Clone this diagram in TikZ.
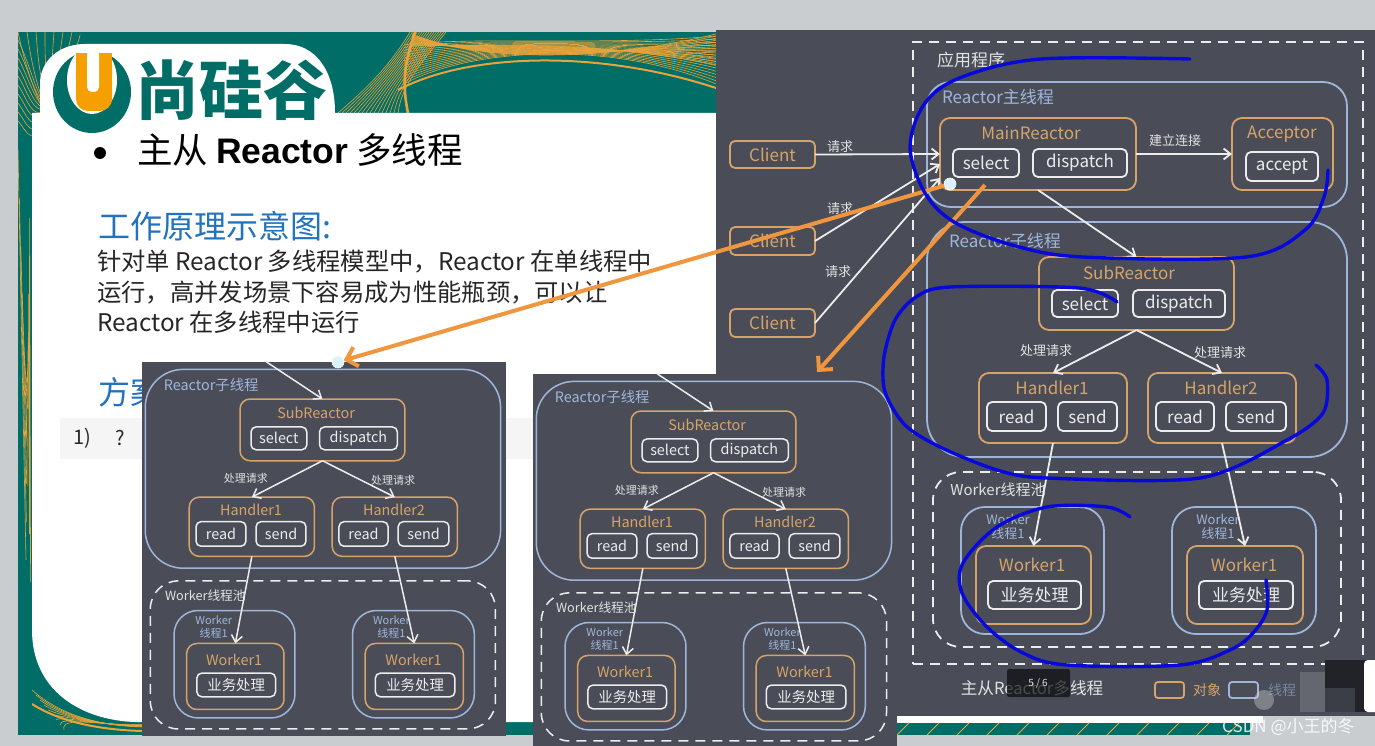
\documentclass[tikz,border=0pt]{standalone}
\usepackage{fontspec}
\setmainfont{Noto Sans CJK SC}
\newfontfamily\arialf{Liberation Sans}
\usetikzlibrary{arrows.meta}
\definecolor{pagegray}{HTML}{C9CDD0}
\definecolor{panelbg}{HTML}{4A4D58}
\definecolor{objor}{HTML}{D6A468}
\definecolor{thrbl}{HTML}{9FB6DA}
\definecolor{inwh}{HTML}{ECECEC}
\definecolor{lblwh}{HTML}{E2E2E2}
\definecolor{slidegreen}{HTML}{006E66}
\definecolor{netor}{HTML}{E8A33A}
\definecolor{logoor}{HTML}{F5A000}
\definecolor{headblue}{HTML}{2272BC}
\definecolor{arrowor}{HTML}{F0963E}
\definecolor{penblue}{HTML}{0808DC}
\def\plw{1.8pt}
\tikzset{
  objbox/.style={draw=objor,line width=\plw,rounded corners=10pt,inner sep=0pt,outer sep=0pt},
  thrbox/.style={draw=thrbl,line width=\plw,inner sep=0pt,outer sep=0pt},
  inbox/.style={draw=inwh,line width=\plw,rounded corners=5pt,inner sep=0pt,outer sep=0pt,text=inwh,font=\fontsize{17}{17}\selectfont},
  pooldash/.style={draw=inwh,line width=\plw,dash pattern=on 10pt off 7pt,inner sep=0pt,outer sep=0pt},
  objtxt/.style={text=objor,inner sep=0pt,font=\fontsize{17}{17}\selectfont},
  thrtxt/.style={text=thrbl,inner sep=0pt,font=\fontsize{17}{17}\selectfont},
  smalltxt/.style={text=lblwh,inner sep=0pt,font=\fontsize{13}{13}\selectfont},
  flow/.style={draw=inwh,line width=\plw,-{Straight Barb[length=7pt,width=11pt]}},
  orangearrow/.style={draw=arrowor,line width=4pt,-{Straight Barb[length=10pt,width=20pt]}},
  dot/.style={circle,draw=white,line width=.6pt,fill=cyan!15,minimum size=12pt,inner sep=0pt,outer sep=0pt},
  pen/.style={draw=penblue,line width=3.4pt,line cap=round,line join=round},
  netline/.style={draw=netor,line width=.6pt},
}
% style, name, x1, y1, x2, y2, text
\newcommand{\bx}[7]{%
  \pgfmathsetmacro\bxw{#5-#3}\pgfmathsetmacro\bxh{#6-#4}%
  \pgfmathsetmacro\bxc{(#5+#3)/2}\pgfmathsetmacro\byc{(#6+#4)/2}%
  \node[#1,minimum width=\bxw pt,minimum height=\bxh pt] (#2) at (\bxc,\byc) {#7};}
% lower half of the diagram, coordinates of the large copy
\newcommand{\subdiagram}[1]{%
  \bx{thrbox,rounded corners=38pt}{#1rs}{927}{222}{1347}{457}{}
  \node[thrtxt] (#1rsl) at (1005,241) {Reactor子线程};
  \bx{objbox}{#1sub}{1039}{257}{1234}{330}{}
  \node[objtxt] (#1subl) at (1129,273) {SubReactor};
  \bx{inbox}{#1subs}{1052}{290}{1118}{317}{select}
  \bx{inbox}{#1subd}{1133}{290}{1225}{317}{dispatch}
  \bx{objbox}{#1ha}{979}{373}{1127}{443}{}
  \node[objtxt] (#1hal) at (1052,388) {Handler1};
  \bx{inbox}{#1har}{987}{402}{1046}{431}{read}
  \bx{inbox}{#1has}{1058}{402}{1117}{431}{send}
  \bx{objbox}{#1hb}{1148}{373}{1296}{443}{}
  \node[objtxt] (#1hbl) at (1221,388) {Handler2};
  \bx{inbox}{#1hbr}{1156}{402}{1214}{431}{read}
  \bx{inbox}{#1hbs}{1226}{402}{1286}{431}{send}
  \node[smalltxt] (#1la) at (1046,351) {处理请求};
  \node[smalltxt] (#1lb) at (1220,353) {处理请求};
  \bx{pooldash,rounded corners=28pt}{#1pool}{933}{472}{1341}{647}{}
  \node[smalltxt,font=\fontsize{15}{15}\selectfont] (#1pooll) at (998,490) {Worker线程池};
  \bx{thrbox,rounded corners=24pt}{#1ta}{961}{507}{1104}{634}{}
  \bx{thrbox,rounded corners=24pt}{#1tb}{1172}{507}{1316}{634}{}
  \node[thrtxt,font=\fontsize{13}{13}\selectfont] (#1tal) at (1008,519) {Worker};
  \node[thrtxt,font=\fontsize{13}{13}\selectfont] (#1tam) at (1008,534) {线程1};
  \node[thrtxt,font=\fontsize{13}{13}\selectfont] (#1tbl) at (1218,519) {Worker};
  \node[thrtxt,font=\fontsize{13}{13}\selectfont] (#1tbm) at (1218,534) {线程1};
  \bx{objbox}{#1wa}{976}{546}{1091}{624}{}
  \node[objtxt] (#1wal) at (1032,565) {Worker1};
  \bx{inbox}{#1wab}{988}{581}{1081}{609}{业务处理}
  \bx{objbox}{#1wb}{1187}{546}{1303}{624}{}
  \node[objtxt] (#1wbl) at (1244,565) {Worker1};
  \bx{inbox}{#1wbb}{1199}{581}{1293}{609}{业务处理}
  \draw[flow] (#1sub.south) -- (#1ha.north);
  \draw[flow] (#1sub.south) -- (#1hb.north);
  \draw[flow] (#1ha.south) -- (#1wa.north);
  \draw[flow] (#1hb.south) -- (#1wb.north);
}
\newcommand{\smallcopy}[3]{%
  \begin{scope}[shift={(#2,#3)},scale=.846,transform shape,shift={(-1039,-257)}]
    \def\plw{1.5pt}
    \bx{draw=none,fill=panelbg,inner sep=0pt,outer sep=0pt}{#1bg}{923}{213}{1353}{655}{}
    \coordinate (#1top) at (1070,213);
    \subdiagram{#1}
    \draw[flow] (#1top) -- (#1sub.north);
  \end{scope}}
\begin{document}
\begin{tikzpicture}[x=1pt,y=-1pt]
\useasboundingbox (0,0) rectangle (1375,746);
\fill[pagegray] (0,0) rectangle (1375,746);
% --- slide ---
\fill[slidegreen] (18,32) rectangle (716,735);
% top-left and left net
\begin{scope}
  \clip (18,32) rectangle (80,735);
  \foreach \i in {0,...,9} {
    \draw[netline] (18+\i*9,32) .. controls (24+\i*7,60) and (30+\i*5,80) .. (44+\i*3,113);
    \draw[netline] (18,40+\i*9) .. controls (28,60+\i*8) and (32,80+\i*8) .. (46,110);
    \draw[netline] (18+\i*1.4,150+\i*48) -- (26+\i*.4,560-\i*38);
  }
\end{scope}
% top-right net
\begin{scope}
  \clip (335,32) rectangle (716,113);
  \foreach \i in {0,...,15} {
    \draw[netline] (338+\i*4,113) .. controls (372+\i*2,84) and (392+\i*2,62) .. (410+\i*2.4,32);
    \draw[netline] (404,84-\i*2.6) .. controls (470,48-\i*.8) and (610,40+\i*.4) .. (716,84-\i*3.2);
    \draw[netline] (412,34+\i*.8) .. controls (480,62-\i*1.1) and (600,62-\i*1.5) .. (716,34+\i*2.1);
  }
  \draw[netor,line width=2.6pt] (415,32) .. controls (408,55) and (400,75) .. (408,113);
  \draw[netor,line width=2pt] (398,90) .. controls (470,52) and (600,50) .. (716,88);
\end{scope}
% white content
\fill[white] (32,113) -- (716,113) -- (716,722) -- (135,722) .. controls (80,720) and (32,690) .. (32,630) -- cycle;
% bottom-left net
\begin{scope}
  \clip (32,660) rectangle (143,735);
  \foreach \i in {0,...,8} {
    \draw[netline] (32+\i*4,690+\i*5) .. controls (60,715) and (100,726) .. (143,727-\i*.3);
  }
  \draw[netor,line width=2pt] (32,704) .. controls (60,722) and (100,730) .. (143,731);
\end{scope}
% logo tab
\fill[white] (40,113) -- (40,84) .. controls (40,60) and (60,44) .. (85,44) -- (285,44) .. controls (315,44) and (335,70) .. (335,113) -- cycle;
\fill[slidegreen] (92,92) ellipse (39pt and 41pt);
\fill[white] (92,80) ellipse (25pt and 34pt);
\fill[logoor,rounded corners=12pt] (76,53) rectangle (112,111);
\fill[logoor] (76,53) rectangle (112,75);
\fill[white,rounded corners=5pt] (87,50) rectangle (99,92);
\fill[white] (87,50) rectangle (99,60);
\node[text=slidegreen,inner sep=0pt,font=\fontsize{64}{64}\selectfont\bfseries] (brand) at (231,90) {尚硅谷};
% texts
\node[circle,fill=black,minimum size=12pt,inner sep=0pt] (bullet) at (100,153) {};
\node[anchor=west,inner sep=0pt,text=black,font=\fontsize{35.5}{36}\selectfont] (title) at (137,150) {主从 {\arialf\bfseries Reactor} 多线程};
\node[anchor=west,inner sep=0pt,text=headblue,font=\fontsize{32}{32}\selectfont] (head) at (98,226) {工作原理示意图:};
\node[anchor=west,inner sep=0pt,text=black!85,font=\fontsize{24.3}{25}\selectfont] (body1) at (97,262) {针对单 Reactor 多线程模型中，Reactor 在单线程中};
\node[anchor=west,inner sep=0pt,text=black!85,font=\fontsize{24.3}{25}\selectfont] (body2) at (97,293) {运行，高并发场景下容易成为性能瓶颈，可以让};
\node[anchor=west,inner sep=0pt,text=black!85,font=\fontsize{24.3}{25}\selectfont] (body3) at (97,322) {Reactor 在多线程中运行};
\node[anchor=west,inner sep=0pt,text=headblue,font=\fontsize{32}{32}\selectfont] (plan) at (98,392) {方案};
\fill[black!4] (60,418) rectangle (716,459);
\node[inner sep=0pt,text=black!85,font=\fontsize{20}{20}\selectfont] (one) at (82,438) {1)};
\node[inner sep=0pt,text=black!85,font=\fontsize{20}{20}\selectfont] (qm) at (120,438) {?};
% --- right part ---
\fill[white] (716,113) rectangle (897,722);
\fill[panelbg] (716,30) rectangle (1375,716);
\fill[white] (897,716) rectangle (1263,723);
\fill[slidegreen] (897,723) rectangle (1250,735);
\foreach \i in {0,...,11} \draw[netline,line width=.9pt] (897+\i*30,735) -- (909+\i*30,723);
% upper half
\bx{pooldash}{app}{913}{42}{1363}{664}{}
\node[text=lblwh,inner sep=0pt,font=\fontsize{17}{17}\selectfont] (appl) at (971,60) {应用程序};
\bx{thrbox,rounded corners=24pt}{rm}{927}{82}{1347}{207}{}
\node[thrtxt] (rml) at (998,97) {Reactor主线程};
\bx{objbox}{main}{940}{118}{1136}{190}{}
\node[objtxt] (mainl) at (1031,133) {MainReactor};
\bx{inbox}{mains}{953}{149}{1019}{177}{select}
\bx{inbox}{maind}{1033}{149}{1127}{177}{dispatch}
\bx{objbox}{acc}{1232}{118}{1333}{190}{}
\node[objtxt] (accl) at (1282,134) {Acceptor};
\bx{inbox}{acca}{1246}{152}{1318}{181}{accept}
\bx{objbox,rounded corners=5pt,text=objor,font=\fontsize{17}{17}\selectfont}{ca}{730}{141}{815}{168}{Client}
\bx{objbox,rounded corners=5pt,text=objor,font=\fontsize{17}{17}\selectfont}{cb}{730}{227}{815}{255}{Client}
\bx{objbox,rounded corners=5pt,text=objor,font=\fontsize{17}{17}\selectfont}{cc}{730}{309}{815}{337}{Client}
\node[smalltxt] (qa) at (840,147) {请求};
\node[smalltxt] (qb) at (840,209) {请求};
\node[smalltxt] (qc) at (838,272) {请求};
\node[smalltxt] (conn) at (1175,141) {建立连接};
\subdiagram{m}
\draw[flow] (ca.east) -- (main.west);
\draw[flow] (cb.east) -- ([yshift=-10pt]main.west);
\draw[flow] (cc.east) -- ([yshift=-24pt]main.west);
\draw[flow] (main.east) -- (acc.west);
\draw[flow] (main.south) -- (msub.north);
% footer
\node[text=lblwh,inner sep=0pt,font=\fontsize{16.6}{17}\selectfont] (foot) at (1032,688) {主从Reactor多线程};
\fill[black!85!panelbg,opacity=.7,rounded corners=2pt] (1007,669) rectangle (1070,697);
\node[text=lblwh,inner sep=0pt,font=\fontsize{10}{10}\selectfont] (page) at (1038,683) {5 / 6};
\bx{objbox,rounded corners=3pt}{lgo}{1155}{682}{1184}{698}{}
\node[text=objor,inner sep=0pt,font=\fontsize{14}{14}\selectfont] (lgot) at (1207,690) {对象};
\bx{thrbox,rounded corners=3pt}{lgb}{1229}{682}{1258}{698}{}
\node[text=thrbl,opacity=.55,inner sep=0pt,font=\fontsize{14}{14}\selectfont] (lgbt) at (1282,690) {线程};
\fill[lblwh,opacity=.35] (1264,700) circle (10pt);
\fill[lblwh,opacity=.18] (1300,672) rectangle (1325,712);
\fill[black!55!panelbg] (1325,660) rectangle (1375,712);
\fill[panelbg!80!black] (1325,688) rectangle (1355,712);
\fill[white,rounded corners=4pt] (1364,660) rectangle (1380,712);
% small copies
\smallcopy{p}{240}{399}
\smallcopy{q}{631}{411}
% orange arrows
\node[dot] (dota) at (950,184) {};
\node[dot] (dotb) at (338,362) {};
\coordinate (ostart) at (985,185);
\coordinate (oend) at (817,372);
\draw[orangearrow] (dota) -- (dotb);
\draw[orangearrow] (ostart) -- (oend);
% pen strokes
\draw[pen] plot[smooth,tension=.55] coordinates {(1190,59) (1041,59) (962,77) (925,103) (910,147) (925,193) (954,222) (1012,245) (1083,257) (1246,257) (1305,230) (1324,197) (1328,170)};
\draw[pen] plot[smooth,tension=.5] coordinates {(1117,302) (1079,288) (950,287) (916,297) (895,320) (884,357) (885,392) (905,425) (940,447) (997,470) (1047,478) (1200,478) (1287,440) (1323,413) (1327,380) (1316,365)};
\draw[pen] plot[smooth,tension=.55] coordinates {(1130,517) (1107,507) (1047,507) (997,527) (963,563) (962,593) (987,627) (1023,653) (1067,665) (1180,665) (1230,650) (1253,633) (1267,610) (1266,580)};
% watermark
\node[text=white,opacity=.85,inner sep=0pt,anchor=west,font=\fontsize{17}{17}\selectfont] (mark) at (1222,727) {CSDN @小王的冬};
\end{tikzpicture}
\end{document}
